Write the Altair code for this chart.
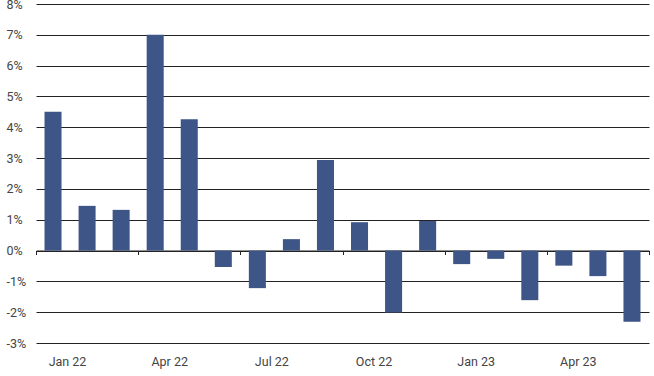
import altair as alt
import pandas as pd

months = ["Jan 22", "Feb 22", "Mar 22", "Apr 22", "May 22", "Jun 22",
          "Jul 22", "Aug 22", "Sep 22", "Oct 22", "Nov 22", "Dec 22",
          "Jan 23", "Feb 23", "Mar 23", "Apr 23", "May 23", "Jun 23"]
values = [4.5, 1.45, 1.32, 7.0, 4.26, -0.53, -1.22, 0.37, 2.94, 0.92, -2.01, 0.96,
          -0.44, -0.27, -1.61, -0.49, -0.83, -2.31]
y_ticks = list(range(-3, 9))

df = pd.DataFrame({"month": months, "value": values, "idx": list(range(len(months)))})

n = len(months)
tick_vals = list(range(0, n + 1, 3))
tick_labels = [months[i] if i < n else "" for i in tick_vals]
label_expr = "[" + ",".join("'" + t + "'" for t in tick_labels) + "][datum.value / 3]"

FONT = "Roboto"
TXT = "#444444"
GRID = "#222222"

xscale = alt.Scale(domain=[0, n], nice=False, zero=False)
yscale = alt.Scale(domain=[-3, 8], nice=False)

yaxis = alt.Axis(values=y_ticks, labelExpr="datum.value + '%'", domain=False,
                 ticks=False, grid=True, gridColor=GRID, gridWidth=1,
                 labelAlign="left", labelPadding=30, labelFont=FONT,
                 labelFontSize=12.5, labelColor=TXT)

base = alt.Chart(df).transform_calculate(x0="datum.idx + 0.25", x1="datum.idx + 0.75")

bars = base.mark_bar(color="#3E5588").encode(
    x=alt.X("x0:Q", scale=xscale, title=None,
            axis=alt.Axis(orient="bottom", values=tick_vals, labelExpr=label_expr,
                          domain=False, ticks=False, grid=False, labelOffset=31,
                          labelFlush=False, labelPadding=12, labelFont=FONT,
                          labelFontSize=12.5, labelColor=TXT)),
    x2="x1:Q",
    y=alt.Y("value:Q", scale=yscale, title=None, axis=yaxis),
    y2=alt.datum(0),
)

axis_layer = base.mark_bar(opacity=0).encode(
    x=alt.X("x0:Q", scale=xscale, title=None,
            axis=alt.Axis(orient="bottom", offset=-92.5, values=tick_vals, labels=False,
                          ticks=True, tickSize=4, tickColor=GRID, domain=True,
                          domainColor=GRID, grid=False)),
    x2="x1:Q",
    y=alt.Y("value:Q", scale=yscale, title=None, axis=yaxis),
    y2=alt.datum(0),
)

chart = alt.layer(bars, axis_layer).resolve_axis(x="independent").properties(
    width=613, height=339, autosize="none",
    padding={"left": 36, "top": 4, "right": 5, "bottom": 33},
).configure_view(stroke=None)

chart.save("out.html", embed_options={"renderer": "svg", "actions": False})
